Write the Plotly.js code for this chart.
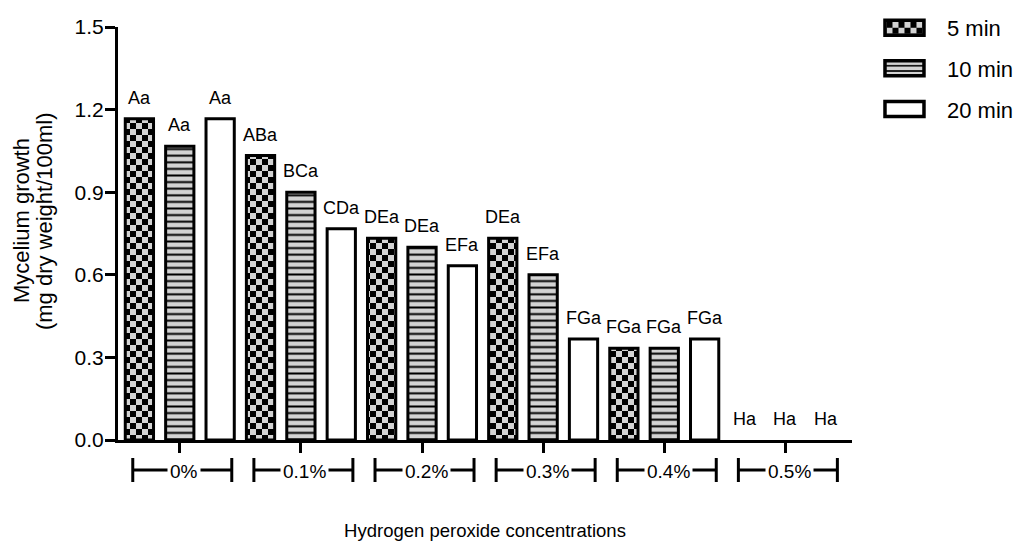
<!DOCTYPE html>
<html>
<head>
<meta charset="utf-8">
<script src="https://cdn.plot.ly/plotly-3.0.1.min.js"></script>
<style>html,body{margin:0;padding:0;background:#fff;}#chart{width:1014px;height:544px;}</style>
</head>
<body>
<div id="chart"></div>
<script>
// ---- data ----
const categories = ['0%', '0.1%', '0.2%', '0.3%', '0.4%', '0.5%'];
const seriesNames = ['5 min', '10 min', '20 min'];
const min5  = [1.167, 1.033, 0.733, 0.733, 0.333, 0];
const min10 = [1.067, 0.900, 0.700, 0.600, 0.333, 0];
const min20 = [1.167, 0.767, 0.633, 0.367, 0.367, 0];
const letters5  = ['Aa', 'ABa', 'DEa', 'DEa', 'FGa', 'Ha'];
const letters10 = ['Aa', 'BCa', 'DEa', 'EFa', 'FGa', 'Ha'];
const letters20 = ['Aa', 'CDa', 'EFa', 'FGa', 'FGa', 'Ha'];
const yTicks = [0, 0.3, 0.6, 0.9, 1.2, 1.5];
const yTitleLines = ['Mycelium growth', '(mg dry weight/100ml)'];
const xTitle = 'Hydrogen peroxide concentrations';

const FONT = 'Liberation Sans, Arial, sans-serif';
const idx = categories.map((c, i) => i);
const values = [min5, min10, min20];
const letters = [letters5, letters10, letters20];

const fills = [
  {color: '#d3d3d3'},
  {color: '#d3d3d3', pattern: {shape: '-', fgcolor: '#000', bgcolor: '#d3d3d3', size: 6.6, solidity: 0.3, fillmode: 'replace'}},
  {color: '#ffffff'}
];

const traces = values.map((v, s) => ({
  type: 'bar', x: idx, y: v, name: seriesNames[s],
  legendgroup: 'g' + s,
  marker: Object.assign({}, fills[s], {line: {color: '#000', width: v.map(val => (val > 0 ? 3 : 0))}}),
  hoverinfo: 'skip'
}));

const annotations = [];
values.forEach((v, s) => {
  v.forEach((val, i) => {
    annotations.push({
      x: i + (s - 1) / 3, y: val, xref: 'x', yref: 'y',
      text: letters[s][i], showarrow: false,
      yanchor: 'middle', yshift: 21,
      font: {family: FONT, size: 18, color: '#000'}
    });
  });
});

const shapes = [];
categories.forEach((c, i) => {
  const base = {type: 'line', xref: 'x', yref: 'paper', xsizemode: 'pixel', ysizemode: 'pixel',
    xanchor: i, yanchor: 0, layer: 'above', line: {color: '#000', width: 3}};
  shapes.push(Object.assign({}, base, {x0: -47, x1: 52, y0: -30, y1: -30}));
  shapes.push(Object.assign({}, base, {x0: -47, x1: -47, y0: -18, y1: -42}));
  shapes.push(Object.assign({}, base, {x0: 52, x1: 52, y0: -18, y1: -42}));
  annotations.push({
    x: i, y: 0, xref: 'x', yref: 'paper', text: categories[i], showarrow: false,
    yanchor: 'middle', yshift: -31, xshift: 4, bgcolor: '#fff', borderpad: 2,
    font: {family: FONT, size: 19, color: '#000'}
  });
});

// y-axis title, two lines
yTitleLines.forEach((t, k) => {
  annotations.push({
    x: 0, y: 0.53, xref: 'paper', yref: 'paper', xshift: -97 + k * 23,
    text: t, textangle: -90, showarrow: false, xanchor: 'center', yanchor: 'middle',
    font: {family: FONT, size: 22, color: '#000'}
  });
});

const layout = {
  width: 1014, height: 544,
  margin: {l: 118, r: 162, t: 27, b: 104, autoexpand: false},
  paper_bgcolor: '#fff', plot_bgcolor: '#fff',
  font: {family: FONT, color: '#000'},
  barmode: 'group', bargap: 0, bargroupgap: 0.3,
  showlegend: true,
  legend: {x: 1.0136, xanchor: 'left', y: 1.0485, yanchor: 'top',
    font: {family: FONT, size: 22, color: '#000'}, tracegroupgap: 9,
    traceorder: 'grouped', itemwidth: 75},
  xaxis: {
    range: [-0.51, 5.55], tickvals: idx, showticklabels: false,
    showline: true, linecolor: '#000', linewidth: 3,
    ticks: 'outside', ticklen: 10, tickwidth: 3, tickcolor: '#000',
    showgrid: false, zeroline: false, fixedrange: true,
    title: {text: xTitle, font: {family: FONT, size: 18.5, color: '#000'}, standoff: 73}
  },
  yaxis: {
    range: [0, 1.5], tickvals: yTicks, tickformat: '.1f',
    showline: true, linecolor: '#000', linewidth: 3,
    ticks: 'outside', ticklen: 10, tickwidth: 3, tickcolor: '#000',
    tickfont: {family: FONT, size: 21, color: '#000'}, ticklabelstandoff: -3,
    showgrid: false, zeroline: false, fixedrange: true
  },
  annotations: annotations,
  shapes: shapes
};

Plotly.newPlot('chart', traces, layout, {displayModeBar: false, staticPlot: true}).then(gd => {
  const NS = 'http://www.w3.org/2000/svg';
  const defs = gd.querySelector('svg.main-svg defs');
  const pat = document.createElementNS(NS, 'pattern');
  pat.setAttribute('id', 'checker5');
  pat.setAttribute('patternUnits', 'userSpaceOnUse');
  pat.setAttribute('width', '12'); pat.setAttribute('height', '12');
  const mk = (x, y, w, h, f) => { const r = document.createElementNS(NS, 'rect');
    r.setAttribute('x', x); r.setAttribute('y', y); r.setAttribute('width', w); r.setAttribute('height', h);
    r.setAttribute('fill', f); pat.appendChild(r); };
  mk(0, 0, 12, 12, '#d3d3d3'); mk(0, 0, 6, 6, '#000'); mk(6, 6, 6, 6, '#000');
  defs.appendChild(pat);
  const barTraces = gd.querySelectorAll('.barlayer .trace');
  if (barTraces[0]) barTraces[0].querySelectorAll('path').forEach(p => { p.style.fill = 'url(#checker5)'; });
  const legTraces = gd.querySelectorAll('.legend .traces');
  legTraces.forEach((t, s) => {
    t.querySelectorAll('.legendpoints path').forEach(p => {
      p.setAttribute('d', 'M-19.5,-7.5H19.5V7.5H-19.5Z');
      p.style.strokeWidth = '3.5px';
      p.style.stroke = '#000';
      if (s === 0) p.style.fill = 'url(#checker5)';
    });
  });
});
</script>
</body>
</html>
